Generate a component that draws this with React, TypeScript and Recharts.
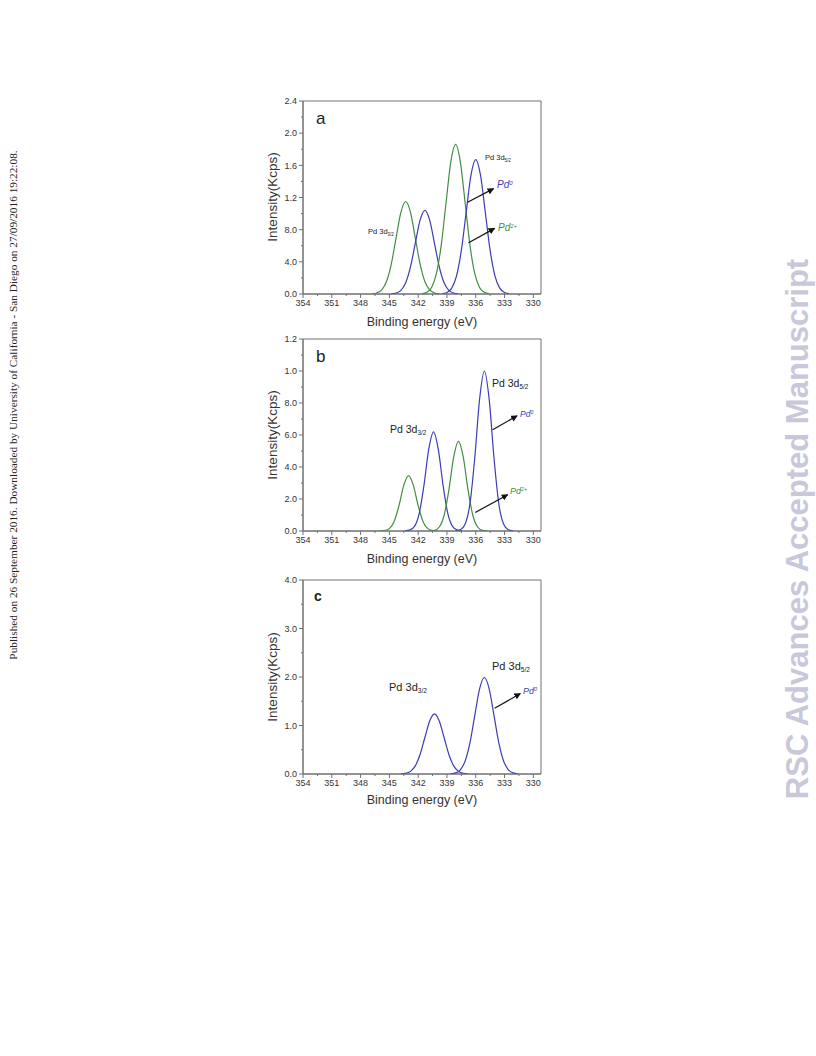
import React from 'react';
import { LineChart, Line, XAxis, YAxis, ReferenceArea, ReferenceLine } from 'recharts';

const GREEN = '#448c44';
const BLUE = '#3c3cb4';
const FRAME = '#707070';
const TEXT = '#333';
const FONT = "'Liberation Sans', Arial, sans-serif";

// binding energy axis (shared by all panels)
const X_DOMAIN = [329.2, 354];
const X_TICKS = [354, 352.5, 351, 349.5, 348, 346.5, 345, 343.5, 342, 340.5, 339, 337.5, 336, 334.5, 333, 331.5, 330];
const X_LABELS = [354, 351, 348, 345, 342, 339, 336, 333, 330];

// panel a
const A_Y_TICKS = [0, 0.2, 0.4, 0.6, 0.8, 1.0, 1.2, 1.4, 1.6, 1.8, 2.0, 2.2, 2.4];
const A_Y_MAJOR = [0, 0.4, 0.8, 1.2, 1.6, 2.0, 2.4];
const A_Y_LABELS = ['0.0', '4.0', '8.0', '1.2', '1.6', '2.0', '2.4'];
const A_G1_EV = [346.8, 346.3, 345.8, 345.3, 344.8, 344.3, 343.8, 343.3, 342.8, 342.3, 341.8, 341.3, 340.8, 340.3, 339.8];
const A_G1 = [0.003, 0.013, 0.05, 0.156, 0.373, 0.698, 1.015, 1.15, 1.015, 0.698, 0.373, 0.156, 0.05, 0.013, 0.003];
const A_B1_EV = [344.8, 344.3, 343.8, 343.3, 342.8, 342.3, 341.8, 341.3, 340.8, 340.3, 339.8, 339.3, 338.8, 338.3, 337.8];
const A_B1 = [0.002, 0.012, 0.046, 0.141, 0.338, 0.631, 0.918, 1.04, 0.918, 0.631, 0.338, 0.141, 0.046, 0.012, 0.002];
const A_G2_EV = [341.6, 341.1, 340.6, 340.1, 339.6, 339.1, 338.6, 338.1, 337.6, 337.1, 336.6, 336.1, 335.6, 335.1, 334.6];
const A_G2 = [0.004, 0.021, 0.082, 0.252, 0.604, 1.128, 1.641, 1.86, 1.641, 1.128, 0.604, 0.252, 0.082, 0.021, 0.004];
const A_B2_EV = [339.5, 339.0, 338.5, 338.0, 337.5, 337.0, 336.5, 336.0, 335.5, 335.0, 334.5, 334.0, 333.5, 333.0, 332.5];
const A_B2 = [0.004, 0.019, 0.073, 0.226, 0.542, 1.013, 1.474, 1.67, 1.474, 1.013, 0.542, 0.226, 0.073, 0.019, 0.004];
const A_ARROWS = [
  [336.85, 1.14, 334.14, 1.31],
  [336.75, 0.637, 334.03, 0.816],
];

// panel b
const B_Y_TICKS = [0, 0.1, 0.2, 0.3, 0.4, 0.5, 0.6, 0.7, 0.8, 0.9, 1.0, 1.1, 1.2];
const B_Y_MAJOR = [0, 0.2, 0.4, 0.6, 0.8, 1.0, 1.2];
const B_Y_LABELS = ['0.0', '2.0', '4.0', '6.0', '8.0', '1.0', '1.2'];
const B_G1_EV = [346.0, 345.5, 345.0, 344.5, 344.0, 343.5, 343.0, 342.5, 342.0, 341.5, 341.0, 340.5, 340.0];
const B_G1 = [0.0, 0.003, 0.015, 0.06, 0.158, 0.285, 0.346, 0.285, 0.158, 0.06, 0.015, 0.003, 0.0];
const B_B1_EV = [343.4, 342.9, 342.4, 341.9, 341.4, 340.9, 340.4, 339.9, 339.4, 338.9, 338.4, 337.9, 337.4];
const B_B1 = [0.001, 0.005, 0.027, 0.107, 0.284, 0.51, 0.62, 0.51, 0.284, 0.107, 0.027, 0.005, 0.001];
const B_G2_EV = [340.8, 340.3, 339.8, 339.3, 338.8, 338.3, 337.8, 337.3, 336.8, 336.3, 335.8, 335.3, 334.8];
const B_G2 = [0.001, 0.004, 0.025, 0.097, 0.256, 0.461, 0.56, 0.461, 0.256, 0.097, 0.025, 0.004, 0.001];
const B_B2_EV = [338.1, 337.6, 337.1, 336.6, 336.1, 335.6, 335.1, 334.6, 334.1, 333.6, 333.1, 332.6, 332.1];
const B_B2 = [0.001, 0.008, 0.044, 0.172, 0.458, 0.823, 1.0, 0.823, 0.458, 0.172, 0.044, 0.008, 0.001];
const B_ARROWS = [
  [334.24, 0.633, 331.69, 0.72],
  [336.05, 0.116, 332.67, 0.227],
];

// panel c
const C_Y_TICKS = [0, 0.5, 1.0, 1.5, 2.0, 2.5, 3.0, 3.5, 4.0];
const C_Y_MAJOR = [0, 1.0, 2.0, 3.0, 4.0];
const C_Y_LABELS = ['0.0', '1.0', '2.0', '3.0', '4.0'];
const C_B1_EV = [343.8, 343.3, 342.8, 342.3, 341.8, 341.3, 340.8, 340.3, 339.8, 339.3, 338.8, 338.3, 337.8, 337.3, 336.8];
const C_B1 = [0.003, 0.014, 0.054, 0.168, 0.403, 0.752, 1.094, 1.24, 1.094, 0.752, 0.403, 0.168, 0.054, 0.014, 0.003];
const C_B2_EV = [338.6, 338.1, 337.6, 337.1, 336.6, 336.1, 335.6, 335.1, 334.6, 334.1, 333.6, 333.1, 332.6, 332.1, 331.6];
const C_B2 = [0.004, 0.022, 0.087, 0.269, 0.646, 1.207, 1.756, 1.99, 1.756, 1.207, 0.646, 0.269, 0.087, 0.022, 0.004];
const C_ARROWS = [[334.03, 1.355, 331.35, 1.66]];

const toPoints = (xs: number[], ys: number[]) => xs.map((x, i) => ({ x, y: ys[i] }));

function XTick({ x, y, payload }: any) {
  const v = payload.value;
  const major = X_LABELS.includes(v);
  const axisY = y - 5;
  return (
    <g>
      <line x1={x} x2={x} y1={axisY} y2={axisY + (major ? 4 : 2)} stroke={FRAME} />
      {major && (
        <text x={x} y={y + 1} dy="0.71em" textAnchor="middle" fontSize={9} fontFamily={FONT} fill={TEXT}>
          {v}
        </text>
      )}
    </g>
  );
}

function makeYTick(major: number[], labels: string[]) {
  return function YTick({ x, y, payload }: any) {
    const idx = major.findIndex((m) => Math.abs(m - payload.value) < 1e-6);
    const axisX = x + 6;
    return (
      <g>
        <line x1={axisX - (idx >= 0 ? 4 : 2)} x2={axisX} y1={y} y2={y} stroke={FRAME} />
        {idx >= 0 && (
          <text x={x} y={y} dy="0.355em" textAnchor="end" fontSize={9} fontFamily={FONT} fill={TEXT}>
            {labels[idx]}
          </text>
        )}
      </g>
    );
  };
}

type Series = { ev: number[]; val: number[]; color: string };

function Panel({ top, plotH, yMax, yTicks, yMajor, yLabels, series, arrows }: {
  top: number; plotH: number; yMax: number; yTicks: number[]; yMajor: number[]; yLabels: string[];
  series: Series[]; arrows: number[][];
}) {
  const YTick = makeYTick(yMajor, yLabels);
  return (
    <div style={{ position: 'absolute', left: 250, top }}>
      <LineChart width={300} height={11 + plotH + 20 + 26} margin={{ top: 11, right: 9, bottom: 26, left: 23 }}>
        <XAxis
          type="number"
          dataKey="x"
          domain={X_DOMAIN}
          reversed
          allowDataOverflow
          ticks={X_TICKS}
          interval={0}
          tick={(p: any) => <XTick {...p} />}
          tickLine={false}
          tickSize={4}
          tickMargin={1}
          height={20}
          axisLine={{ stroke: FRAME }}
        />
        <YAxis
          type="number"
          domain={[0, yMax]}
          allowDataOverflow
          ticks={yTicks}
          interval={0}
          tick={(p: any) => <YTick {...p} />}
          tickLine={false}
          tickSize={4}
          tickMargin={2}
          width={30}
          axisLine={{ stroke: FRAME }}
        />
        <ReferenceArea x1={X_DOMAIN[0]} x2={X_DOMAIN[1]} y1={0} y2={yMax} fill="none" fillOpacity={0} stroke={FRAME} strokeWidth={1} />
        {series.map((s, i) => (
          <Line
            key={i}
            data={toPoints(s.ev, s.val)}
            dataKey="y"
            type="monotone"
            stroke={s.color}
            strokeWidth={1.2}
            dot={false}
            activeDot={false}
            isAnimationActive={false}
          />
        ))}
        {arrows.map((a, i) => (
          <ReferenceLine
            key={'ar' + i}
            segment={[{ x: a[0], y: a[1] }, { x: a[2], y: a[3] }]}
            stroke="#111"
            strokeWidth={1.2}
            markerEnd="url(#arrowHead)"
          />
        ))}
      </LineChart>
    </div>
  );
}

function Note({ x, y, size, color = '#222', italic = false, children }: any) {
  return (
    <div
      style={{
        position: 'absolute', left: x, top: y, transform: 'translateY(-50%)', fontSize: size, lineHeight: 1,
        color, fontStyle: italic ? 'italic' : 'normal', fontFamily: FONT, whiteSpace: 'nowrap',
      }}
    >
      {children}
    </div>
  );
}

const Sub = ({ t }: { t: string }) => <sub style={{ fontSize: '0.6em', verticalAlign: '-0.35em' }}>{t}</sub>;
const Sup = ({ t }: { t: string }) => <sup style={{ fontSize: '0.6em', verticalAlign: '0.45em' }}>{t}</sup>;

function XTitle({ y }: { y: number }) {
  return (
    <div style={{ position: 'absolute', left: 422, top: y, transform: 'translate(-50%, -50%)', fontSize: 12.5, fontFamily: FONT, color: TEXT, whiteSpace: 'nowrap' }}>
      Binding energy (eV)
    </div>
  );
}

function YTitle({ y }: { y: number }) {
  return (
    <div style={{ position: 'absolute', left: 272, top: y, transform: 'translate(-50%, -50%) rotate(-90deg)', fontSize: 13.5, fontFamily: FONT, color: TEXT, whiteSpace: 'nowrap' }}>
      Intensity(Kcps)
    </div>
  );
}

export default function App() {
  return (
    <div style={{ position: 'absolute', left: 0, top: 0, width: 816, height: 1056, background: '#fff', fontFamily: FONT }}>
      <svg width={0} height={0} style={{ position: 'absolute' }}>
        <defs>
          <marker id="arrowHead" viewBox="0 0 10 10" refX="9" refY="5" markerWidth="5.5" markerHeight="5.5" orient="auto">
            <path d="M0,0 L10,5 L0,10 z" fill="#111" />
          </marker>
        </defs>
      </svg>

      <div style={{ position: 'absolute', left: 13, top: 405, transform: 'translate(-50%, -50%) rotate(-90deg)', fontFamily: "'Liberation Serif', 'Times New Roman', serif", fontSize: 11.3, color: '#222', whiteSpace: 'nowrap' }}>
        Published on 26 September 2016. Downloaded by University of California - San Diego on 27/09/2016 19:22:08.
      </div>
      <div style={{ position: 'absolute', left: 798, top: 529, transform: 'translate(-50%, -50%) rotate(-90deg)', fontFamily: FONT, fontWeight: 'bold', fontSize: 31, color: '#c8c8da', whiteSpace: 'nowrap' }}>
        RSC Advances Accepted Manuscript
      </div>

      {/* panel a */}
      <Panel
        top={90}
        plotH={193}
        yMax={2.4}
        yTicks={A_Y_TICKS}
        yMajor={A_Y_MAJOR}
        yLabels={A_Y_LABELS}
        series={[
          { ev: A_G1_EV, val: A_G1, color: GREEN },
          { ev: A_B1_EV, val: A_B1, color: BLUE },
          { ev: A_G2_EV, val: A_G2, color: GREEN },
          { ev: A_B2_EV, val: A_B2, color: BLUE },
        ]}
        arrows={A_ARROWS}
      />
      <Note x={316} y={118} size={17}>a</Note>
      <Note x={485} y={159} size={7.5}>Pd 3d<Sub t="5/2" /></Note>
      <Note x={368} y={233} size={7.5}>Pd 3d<Sub t="3/2" /></Note>
      <Note x={497} y={185} size={10} color={BLUE} italic>Pd<Sup t="0" /></Note>
      <Note x={498} y={228} size={10} color={GREEN} italic>Pd<Sup t="2+" /></Note>
      <XTitle y={322} />
      <YTitle y={197} />

      {/* panel b */}
      <Panel
        top={328}
        plotH={192}
        yMax={1.2}
        yTicks={B_Y_TICKS}
        yMajor={B_Y_MAJOR}
        yLabels={B_Y_LABELS}
        series={[
          { ev: B_G1_EV, val: B_G1, color: GREEN },
          { ev: B_B1_EV, val: B_B1, color: BLUE },
          { ev: B_G2_EV, val: B_G2, color: GREEN },
          { ev: B_B2_EV, val: B_B2, color: BLUE },
        ]}
        arrows={B_ARROWS}
      />
      <Note x={316} y={356} size={17}>b</Note>
      <Note x={492} y={384} size={10.5}>Pd 3d<Sub t="5/2" /></Note>
      <Note x={390} y={430} size={10.5}>Pd 3d<Sub t="3/2" /></Note>
      <Note x={520} y={414} size={8.5} color={BLUE} italic>Pd<Sup t="0" /></Note>
      <Note x={510} y={491} size={9} color={GREEN} italic>Pd<Sup t="2+" /></Note>
      <XTitle y={559} />
      <YTitle y={435} />

      {/* panel c */}
      <Panel
        top={569}
        plotH={194}
        yMax={4}
        yTicks={C_Y_TICKS}
        yMajor={C_Y_MAJOR}
        yLabels={C_Y_LABELS}
        series={[
          { ev: C_B1_EV, val: C_B1, color: BLUE },
          { ev: C_B2_EV, val: C_B2, color: BLUE },
        ]}
        arrows={C_ARROWS}
      />
      <Note x={314} y={596} size={14}><b>c</b></Note>
      <Note x={492} y={667} size={11}>Pd 3d<Sub t="5/2" /></Note>
      <Note x={389} y={688} size={11}>Pd 3d<Sub t="3/2" /></Note>
      <Note x={523} y={691} size={9} color={BLUE} italic>Pd<Sup t="0" /></Note>
      <XTitle y={800} />
      <YTitle y={677} />
    </div>
  );
}
